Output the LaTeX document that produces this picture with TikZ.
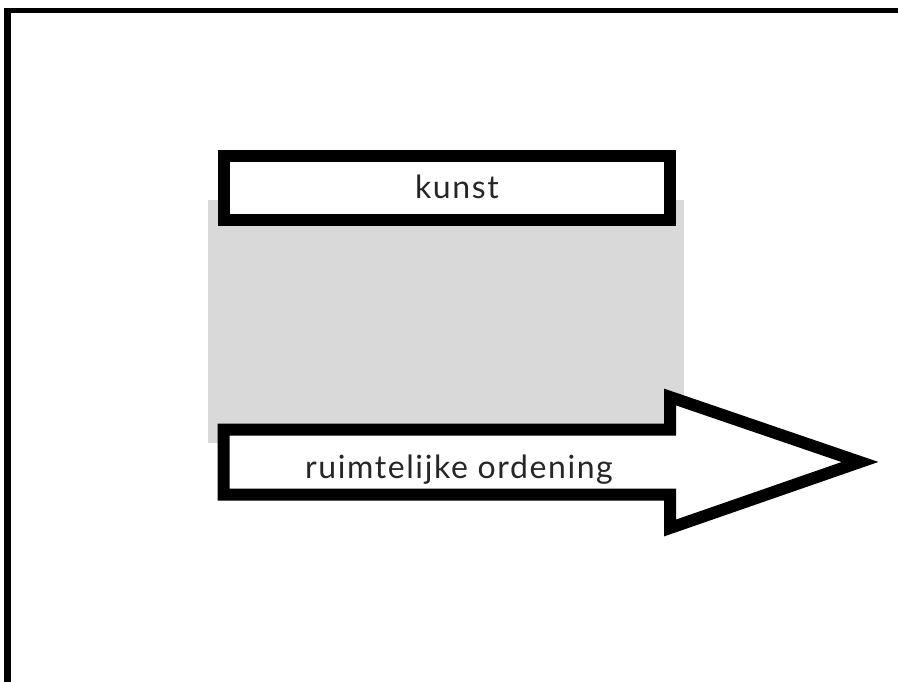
\documentclass[tikz,border=0pt]{standalone}
\usepackage{fontspec}
\setmainfont{Lato}
\newfontfamily\tekstfont[LetterSpace=5]{Lato}
\begin{document}
\begin{tikzpicture}[x=1pt,y=-1pt,
  outline/.style={draw=black, line width=12pt, fill=white},
  tekst/.style={font=\tekstfont\fontsize{32}{38}\selectfont, text=black!85, inner sep=0pt}]
  \useasboundingbox (0,0) rectangle (898,682);
  % frame
  \draw[line width=7pt] (7.5,682) -- (7.5,8);
  \draw[line width=5.5pt] (4,10.5) -- (898,10.5);
  % gray field
  \fill[black!15] (208,200) rectangle (684,443);
  % kunst
  \node[outline, minimum width=446pt, minimum height=64pt, inner sep=0pt] (kunstbox) at (447,188) {};
  \node[tekst, anchor=base] (kunst) at (457,199) {kunst};
  % arrow
  \draw[outline, miter limit=10] (223.5,429.5) -- (670,429.5) -- (670,397) -- (860,462)
    -- (670,528) -- (670,494.5) -- (223.5,494.5) -- cycle;
  \node[tekst, anchor=base] (ordening) at (459,478) {ruimtelijke ordening};
\end{tikzpicture}
\end{document}
